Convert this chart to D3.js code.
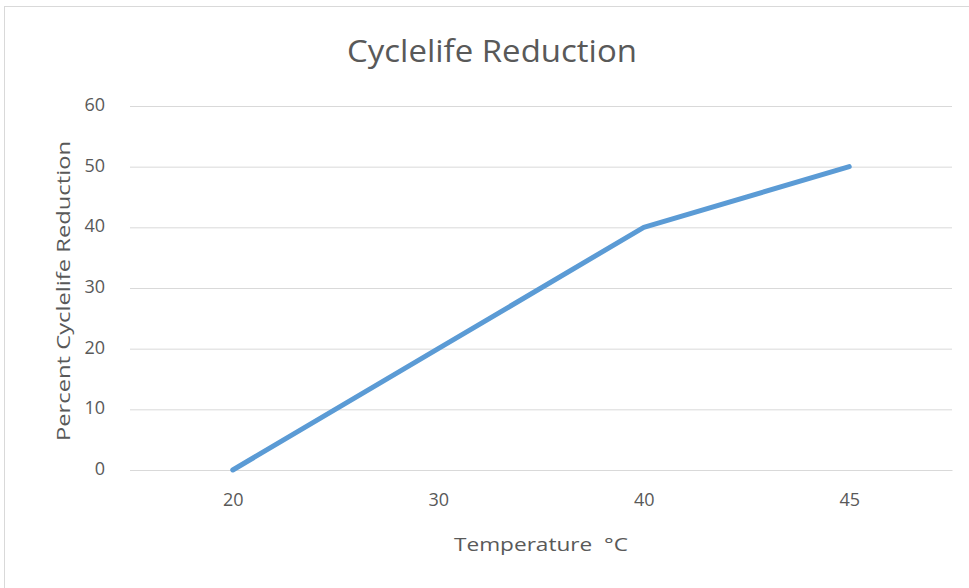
<!DOCTYPE html>
<html>
    <head>
        <meta charset="utf-8">
        <title>Cyclelife Reduction</title>
        <script type="text/javascript" src="https://d3js.org/d3.v7.min.js"></script>
        <style>
            body {margin: 0; background: #fff;}
            svg text {font-family: "Open Sans", sans-serif; fill: #595959;}
        </style>
    </head>
    <body>
        <script>
            // Données du graphique
            var temperatures = ["20", "30", "40", "45"];
            var reductions = [0, 20, 40, 50];
            var yTicks = [0, 10, 20, 30, 40, 50, 60];

            var width = 969, height = 588;
            var margin = {top: 106, right: 17, bottom: 118, left: 130};

            var canvas = d3.select("body")
                            .append("svg")
                            .attr("width", width)
                            .attr("height", height);

            // Cadre du graphique
            canvas.append("rect")
                .attr("x", 4.5)
                .attr("y", 6.5)
                .attr("width", width + 10)
                .attr("height", height + 10)
                .attr("fill", "#fff")
                .attr("stroke", "#d9d9d9");

            var xScale = d3.scalePoint()
                .domain(temperatures)
                .range([margin.left, width - margin.right])
                .padding(0.5);

            var yScale = d3.scaleLinear()
                .domain([0, 60])
                .range([height - margin.bottom, margin.top]);

            // Grille horizontale
            var grid = canvas.append("g")
                .attr("transform", "translate(" + margin.left + ",0)")
                .call(d3.axisLeft(yScale).tickValues(yTicks).tickSize(-(width - margin.right - margin.left)).tickFormat(""));
            grid.select(".domain").remove();
            grid.selectAll("line").attr("stroke", "#d9d9d9").attr("stroke-width", 1);

            // Axe Y
            var yAxis = canvas.append("g")
                .attr("transform", "translate(" + (margin.left - 25) + ",0)")
                .call(d3.axisLeft(yScale).tickValues(yTicks).tickSize(0).tickPadding(0));
            yAxis.select(".domain").remove();
            yAxis.selectAll("text").attr("font-size", 18).attr("fill", "#595959").attr("dy", "0.25em");

            // Axe X
            var xAxis = canvas.append("g")
                .attr("transform", "translate(0," + (height - margin.bottom) + ")")
                .call(d3.axisBottom(xScale).tickSize(0).tickPadding(23));
            xAxis.select(".domain").attr("stroke", "#d9d9d9");
            xAxis.selectAll("text").attr("font-size", 18).attr("fill", "#595959");

            // Ligne
            var line = d3.line()
                .x(function(d, i) { return xScale(temperatures[i]); })
                .y(function(d) { return yScale(d); });

            canvas.append("path")
                .datum(reductions)
                .attr("d", line)
                .attr("fill", "none")
                .attr("stroke", "#5b9bd5")
                .attr("stroke-width", 5)
                .attr("stroke-linejoin", "round")
                .attr("stroke-linecap", "round");

            // Titres
            canvas.append("text")
                .attr("x", 492)
                .attr("y", 62)
                .attr("text-anchor", "middle")
                .attr("font-size", 31)
                .attr("textLength", 290)
                .attr("lengthAdjust", "spacingAndGlyphs")
                .text("Cyclelife Reduction");

            canvas.append("text")
                .attr("x", 541)
                .attr("y", 551)
                .attr("text-anchor", "middle")
                .attr("font-size", 19)
                .style("white-space", "pre")
                .attr("textLength", 174)
                .attr("lengthAdjust", "spacingAndGlyphs")
                .text("Temperature  °C");

            canvas.append("text")
                .attr("transform", "translate(70,291) rotate(-90)")
                .attr("text-anchor", "middle")
                .attr("font-size", 19)
                .attr("textLength", 300)
                .attr("lengthAdjust", "spacingAndGlyphs")
                .text("Percent Cyclelife Reduction");
        </script>
    </body>
</html>
